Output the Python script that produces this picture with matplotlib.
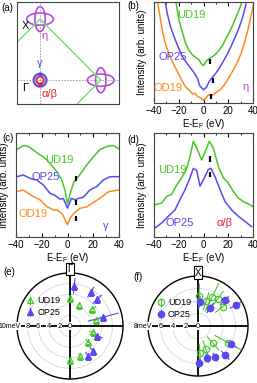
import numpy as np
import matplotlib
matplotlib.use('Agg')
import matplotlib.pyplot as plt
from matplotlib.patches import Ellipse, Circle
from matplotlib.ticker import MultipleLocator

plt.rcParams['font.family'] = ['Liberation Sans', 'DejaVu Sans']
plt.rcParams['font.size'] = 7
plt.rcParams['axes.linewidth'] = 0.8

GREEN = '#44c828'
BLUE = '#5a48f0'
ORANGE = '#ff8a1e'
PURPLE = '#b44ad8'
RED = '#e8202a'

# ---- (b) eta pocket spectra (fraction of axis height) ----
b_ud_e = [-22.5, -19.8, -17.1, -14.4, -11.7, -8.9, -6.2, -3.5, -1.9, 0, 1.9, 4.6, 7.3, 10, 12.7, 15.4, 18.2, 20.9, 23.6, 26.3, 29, 31.7]
b_ud_i = [1.02, 0.82, 0.70, 0.59, 0.52, 0.475, 0.45, 0.426, 0.39, 0.37, 0.41, 0.44, 0.46, 0.485, 0.525, 0.57, 0.64, 0.70, 0.77, 0.85, 0.93, 1.02]
b_op_e = [-31.2, -29.3, -26.6, -23.8, -21.1, -18.4, -15.7, -13, -10.3, -7.6, -4.9, -3, 0, 2.4, 4.6, 7.3, 10, 12.7, 15.4, 18.2, 20.9, 23.6, 26.3, 29, 31.7, 34.4]
b_op_i = [1.02, 0.885, 0.754, 0.656, 0.574, 0.49, 0.433, 0.387, 0.344, 0.30, 0.246, 0.17, 0.13, 0.157, 0.213, 0.256, 0.295, 0.344, 0.40, 0.46, 0.525, 0.597, 0.672, 0.754, 0.852, 0.98]
b_od_e = [-37.4, -36, -33.3, -30.6, -27.9, -25.2, -22.5, -19.8, -17.1, -14.4, -11.7, -8.9, -7, -4.9, -2.2, 0, 1.9, 4.1, 6.2, 8.7, 11.4, 14.1, 16.8, 19.5, 22.2, 24.9, 27.6, 30.4, 33, 35.8, 38.5, 40.6]
b_od_i = [1.02, 0.918, 0.72, 0.574, 0.49, 0.41, 0.344, 0.28, 0.213, 0.157, 0.13, 0.089, 0.098, 0.066, 0.05, 0.026, 0.05, 0.082, 0.066, 0.092, 0.115, 0.138, 0.18, 0.23, 0.289, 0.344, 0.41, 0.49, 0.59, 0.72, 0.87, 0.98]
b_mark_e = [5.1, 7.3, 6.2]
b_mark_i = [0.41, 0.22, 0.06]

# ---- (c) gamma pocket spectra ----
c_ud_e = [-39.5, -34.3, -30.4, -26.5, -22.6, -18.7, -13.6, -8.4, -4.5, -2, 0, 2.6, 5, 9.6, 14.8, 20, 25.2, 30.4, 35.6, 39.5]
c_ud_i = [0.84, 0.88, 0.87, 0.836, 0.80, 0.77, 0.71, 0.63, 0.55, 0.45, 0.32, 0.44, 0.53, 0.60, 0.69, 0.77, 0.84, 0.87, 0.88, 0.85]
c_op_e = [-39.5, -34.3, -29.1, -24, -18.7, -13.6, -9.7, -5.8, -3.2, 0, 3.1, 5.7, 8.3, 12.2, 17.4, 22.6, 27.8, 33, 39.5]
c_op_i = [0.58, 0.596, 0.564, 0.548, 0.50, 0.42, 0.40, 0.363, 0.37, 0.277, 0.373, 0.357, 0.37, 0.382, 0.452, 0.484, 0.548, 0.58, 0.58]
c_od_e = [-39.5, -34.3, -30.4, -26.5, -21.3, -16.1, -10.9, -8, -4, -2, 0, 2, 5, 10, 15, 20, 26, 32, 39.5]
c_od_i = [0.436, 0.452, 0.42, 0.388, 0.357, 0.293, 0.26, 0.26, 0.22, 0.17, 0.118, 0.18, 0.23, 0.277, 0.29, 0.33, 0.38, 0.436, 0.452]
c_mark_e = [6.6, 6.6, 6.6]
c_mark_i = [0.564, 0.33, 0.18]

# ---- (d) alpha/beta pocket spectra ----
d_ud_e = [-39.2, -33.8, -29.7, -25.7, -21.7, -17.6, -13.6, -10.9, -8.2, -5.5, -1.5, 2, 4.7, 7.9, 12, 16, 20, 24, 28.1, 32.2, 37.6, 40.2]
d_ud_i = [0.31, 0.327, 0.39, 0.41, 0.50, 0.57, 0.66, 0.775, 0.92, 0.856, 0.74, 0.84, 0.92, 0.856, 0.68, 0.57, 0.52, 0.44, 0.375, 0.34, 0.31, 0.29]
d_op_e = [-39.2, -33.8, -28.4, -23, -19, -14.9, -10.9, -8.2, -5.5, -2.8, -0.1, 3.9, 6.1, 9.3, 13.4, 17.4, 22.8, 28.1, 33.5, 38.9]
d_op_i = [0.087, 0.135, 0.20, 0.26, 0.36, 0.455, 0.57, 0.66, 0.64, 0.49, 0.55, 0.65, 0.66, 0.58, 0.455, 0.34, 0.26, 0.20, 0.15, 0.10]
d_mark_e = [5.0, 5.0]
d_mark_i = [0.75, 0.60]

# ---- (e) gap around Gamma pockets (angle deg, gap meV, err) ----
e_ud_th = [0, 23, 53, 77, 105, 131, 162, 180]
e_ud_r = [5.3, 4.3, 5.3, 5.0, 4.4, 4.5, 6.0, 6.4]
e_ud_err = [0.6, 0.6, 0.8, 0.6, 0.6, 0.6, 0.6, 0.6]
e_op_th = [6, 31.5, 45.6, 75, 110, 137, 149]
e_op_r = [7.6, 7.5, 7.2, 6.5, 5.4, 6.5, 6.7]
e_op_err = [1.5, 1.2, 1.2, 3.0, 1.2, 1.0, 1.0]

# ---- (f) gap around X pockets ----
f_ud_th = [2, 18, 26, 36, 52, 119, 139, 161, 176]
f_ud_r = [4.8, 4.2, 5.1, 5.4, 5.0, 5.5, 3.7, 3.9, 4.3]
f_ud_err = [2.0, 1.5, 2.5, 1.5, 1.5, 2.5, 1.5, 1.5, 1.5]
f_op_th = [4, 34, 46, 61, 119, 137, 151, 164, 178]
f_op_r = [3.9, 3.5, 5.9, 7.0, 6.1, 6.4, 5.7, 5.3, 5.9]
f_op_err = [1.0, 1.0, 1.0, 1.2, 1.0, 1.0, 0.8, 0.8, 0.8]

W, H = 257, 383
fig = plt.figure(figsize=(W / 100, H / 100), dpi=100)


def box(x0, y0, x1, y1):
    return [x0 / W, 1 - y1 / H, (x1 - x0) / W, (y1 - y0) / H]


def spec_axes(rect, ylab_pad):
    ax = fig.add_axes(rect)
    ax.set_xlim(-40, 40)
    ax.set_ylim(0, 1)
    ax.set_yticks([])
    ax.xaxis.set_major_locator(MultipleLocator(20))
    ax.xaxis.set_minor_locator(MultipleLocator(10))
    ax.tick_params(axis='x', which='both', direction='in', top=True,
                   labelsize=7, pad=2)
    ax.tick_params(axis='x', which='major', length=3)
    ax.tick_params(axis='x', which='minor', length=1.5)
    for s in ax.spines.values():
        s.set_color('#444444')
    ax.set_xlabel(r'E-E$_\mathregular{F}$ (eV)', fontsize=7, labelpad=1)
    ax.set_ylabel('Intensity (arb. units)', fontsize=7, labelpad=ylab_pad)
    return ax


def marks(ax, es, ys):
    for e, y in zip(es, ys):
        ax.plot([e, e], [y - 0.025, y + 0.025], color='k', lw=1.6,
                solid_capstyle='butt')


# ---------------- (a) ----------------
ax = fig.add_axes(box(17, 2, 119, 104))
ax.set_xlim(-0.38, 1.3)
ax.set_ylim(-0.39, 1.28)
ax.set_xticks([])
ax.set_yticks([])
for s in ax.spines.values():
    s.set_color('#444444')
ax.axhline(0, color='#999999', ls=(0, (2, 1.5)), lw=0.6)
ax.axvline(0, color='#999999', ls=(0, (2, 1.5)), lw=0.6)
ax.plot([-0.38, 0, 1, 0.62], [0.62, 1, 0, -0.38], color='#72dc72', lw=1.0)
for cx, cy in [(0, 1), (1, 0)]:
    ax.add_patch(Ellipse((cx, cy), 0.44, 0.2, fill=False, ec=PURPLE, lw=1.2))
    ax.add_patch(Ellipse((cx, cy), 0.17, 0.41, fill=False, ec=PURPLE, lw=1.2))
ax.add_patch(Circle((0, 0), 0.105, fill=False, ec=BLUE, lw=1.6))
ax.add_patch(Circle((0, 0), 0.06, fill=False, ec=RED, lw=1.4))
ax.plot([0], [0.105], marker='o', ms=2, color=BLUE)
ax.plot([0], [-0.06], marker='o', ms=2, color=RED)
ax.text(-0.3, 0.88, 'X', fontsize=8, ha='left', va='center')
ax.text(0.08, 0.72, 'η', color=PURPLE, fontsize=8, ha='center', va='center')
ax.text(0.0, 0.28, 'γ', color=BLUE, fontsize=8, ha='center', va='center')
ax.text(-0.29, -0.13, 'Γ', fontsize=8, ha='left', va='center')
ax.text(0.15, -0.22, 'α/β', color=RED, fontsize=8, ha='center', va='center')
fig.text(1 / W, 1 - 8 / H, '(a)', fontsize=7, va='center')

# ---------------- (b) ----------------
ax = spec_axes(box(154, 2, 253, 103), 5)
ax.plot(b_ud_e, b_ud_i, color=GREEN, lw=1.1)
ax.plot(b_op_e, b_op_i, color=BLUE, lw=1.1)
ax.plot(b_od_e, b_od_i, color=ORANGE, lw=1.1)
marks(ax, b_mark_e, b_mark_i)
ax.text(-10, 0.87, 'UD19', color=GREEN, fontsize=8, ha='center', va='center')
ax.text(-36, 0.46, 'OP25', color=BLUE, fontsize=8, ha='left', va='center')
ax.text(-40.5, 0.15, 'OD19', color=ORANGE, fontsize=8, ha='left', va='center')
ax.text(34, 0.155, 'η', color=PURPLE, fontsize=8, ha='center', va='center')
fig.text(127 / W, 1 - 6 / H, '(b)', fontsize=7, va='center')

# ---------------- (c) ----------------
ax = spec_axes(box(16, 133, 119, 237), 5)
ax.plot(c_ud_e, c_ud_i, color=GREEN, lw=1.1)
ax.plot(c_op_e, c_op_i, color=BLUE, lw=1.1)
ax.plot(c_od_e, c_od_i, color=ORANGE, lw=1.1)
marks(ax, c_mark_e, c_mark_i)
ax.text(-6, 0.74, 'UD19', color=GREEN, fontsize=8, ha='center', va='center')
ax.text(-28, 0.58, 'OP25', color=BLUE, fontsize=8, ha='left', va='center')
ax.text(-38, 0.22, 'OD19', color=ORANGE, fontsize=8, ha='left', va='center')
ax.text(30, 0.11, 'γ', color=BLUE, fontsize=8, ha='center', va='center')
fig.text(2 / W, 1 - 138 / H, '(c)', fontsize=7, va='center')

# ---------------- (d) ----------------
ax = spec_axes(box(154, 133, 253, 237), 5)
ax.plot(d_ud_e, d_ud_i, color=GREEN, lw=1.1)
ax.plot(d_op_e, d_op_i, color=BLUE, lw=1.1)
marks(ax, d_mark_e, d_mark_i)
ax.text(-37, 0.645, 'UD19', color=GREEN, fontsize=8, ha='left', va='center')
ax.text(-31, 0.135, 'OP25', color=BLUE, fontsize=8, ha='left', va='center')
ax.text(17, 0.135, 'α/β', color=RED, fontsize=8, ha='center', va='center')
fig.text(127 / W, 1 - 140 / H, '(d)', fontsize=7, va='center')


# ---------------- polar panels ----------------
def polar_panel(rect, rmax, unit_r, top, ud, op, marker):
    ax = fig.add_axes(rect, projection='polar')
    ax.set_theta_zero_location('N')
    ax.set_theta_direction(-1)
    ax.set_rlim(0, rmax)
    ax.set_rticks(list(range(2, rmax, 2)))
    ax.set_yticklabels([])
    ax.yaxis.grid(True, color='#b0b0b0', ls=(0, (1, 1)), lw=0.6)
    ax.set_xticks(np.radians([45, 135, 225, 315]))
    ax.set_xticklabels([])
    ax.xaxis.grid(False)
    ax.tick_params(axis='x', direction='in', length=3, width=0.8)
    ax.spines['polar'].set_linewidth(1.0)
    for th in [0, 90, 180, 270]:
        ax.plot([np.radians(th)] * 2, [0, rmax], color='k', lw=1.3, zorder=2)
    for r in range(0, rmax, 2):
        ax.text(np.radians(270), r, '%d' % r, fontsize=5.5, ha='center',
                va='center', zorder=3,
                bbox=dict(facecolor='white', edgecolor='none', pad=0.3))
    ax.text(np.radians(270), unit_r, '%dmeV' % rmax, fontsize=5, ha='right',
            va='center', zorder=3, clip_on=False,
            bbox=dict(facecolor='white', edgecolor='none', pad=0.3))
    ax.text(0.5, 1.035, top, transform=ax.transAxes, fontsize=7, ha='center',
            va='center', bbox=dict(facecolor='white', edgecolor='k', pad=0.8, lw=0.8),
            zorder=5)
    th, r, err = ud
    ax.errorbar(np.radians(th), r, yerr=err, fmt=marker, ms=4.5, mfc='none',
                mec=GREEN, mew=0.9, ecolor=GREEN, elinewidth=0.8, capsize=0,
                zorder=4, label='UD19')
    th, r, err = op
    ax.errorbar(np.radians(th), r, yerr=err, fmt=marker, ms=4.5, mfc=BLUE,
                mec=BLUE, ecolor=BLUE, elinewidth=0.8, capsize=0, zorder=4,
                label='OP25')
    ax.legend(loc='upper left', bbox_to_anchor=(0.02, 0.83), frameon=False,
              fontsize=6.5, handletextpad=0.2, borderpad=0.1, labelspacing=0.3,
              handlelength=1.2)
    return ax


polar_panel(box(17, 273, 123, 379), 10, 9.25, 'Γ',
            (e_ud_th, e_ud_r, e_ud_err), (e_op_th, e_op_r, e_op_err), '^')
fig.text(3 / W, 1 - 272 / H, '(e)', fontsize=7, va='center')
polar_panel(box(148, 276, 248, 376), 8, 7.4, 'X',
            (f_ud_th, f_ud_r, f_ud_err), (f_op_th, f_op_r, f_op_err), 'o')
fig.text(133 / W, 1 - 277 / H, '(f)', fontsize=7, va='center')

fig.savefig('out.png', dpi=100)
